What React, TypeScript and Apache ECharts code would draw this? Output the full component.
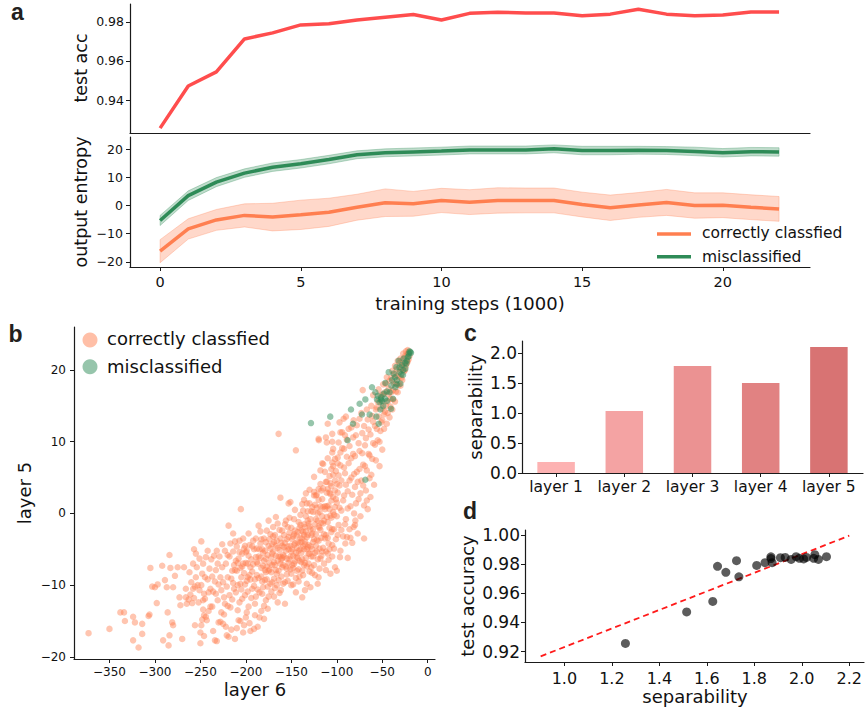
import React, { useEffect, useRef } from 'react';
import * as echarts from 'echarts';

// ---------- panel a: training curves ----------
const steps = [0, 1, 2, 3, 4, 5, 6, 7, 8, 9, 10, 11, 12, 13, 14, 15, 16, 17, 18, 19, 20, 21, 22];
const testAcc = [0.9256, 0.9472, 0.9544, 0.9713, 0.9744, 0.9785, 0.9791, 0.981, 0.9824, 0.9838, 0.981, 0.9844,
  0.985, 0.9846, 0.9846, 0.9832, 0.984, 0.9865, 0.984, 0.9832, 0.9836, 0.9851, 0.9851];
const correctMean = [-16.2, -8.3, -5.1, -3.5, -4.1, -3.3, -2.4, -0.6, 1.0, 0.6, 1.8, 1.2, 1.8, 1.8, 1.8, 0.35,
  -0.8, 0.2, 1.1, 0.0, 0.1, -0.6, -1.2];
const correctStd = [4.1, 3.6, 3.7, 4.1, 4.9, 5.2, 5.0, 4.6, 4.9, 4.4, 4.3, 4.4, 4.5, 4.4, 4.4, 4.4, 4.5, 4.4,
  4.6, 4.5, 4.4, 4.4, 4.4];
const misMean = [-5.3, 3.5, 8.3, 11.5, 13.6, 14.8, 16.3, 18.0, 18.7, 19.0, 19.3, 19.7, 19.7, 19.7, 20.1, 19.5,
  19.5, 19.6, 19.5, 19.2, 18.7, 19.1, 19.0];
const misStd = [1.8, 1.7, 1.6, 1.5, 1.5, 1.5, 1.5, 1.4, 1.4, 1.4, 1.4, 1.4, 1.4, 1.4, 1.4, 1.5, 1.5, 1.4, 1.4,
  1.5, 1.5, 1.5, 1.5];
const accTicks = [0.94, 0.96, 0.98];
const entropyTicks = [-20, -10, 0, 10, 20];
const stepTicks = [0, 5, 10, 15, 20];

// ---------- panel b: layer 6 vs layer 5 activations ----------
const correctPts: [number, number][] = [
  [-373, -16.7], [-350, -16.1], [-338, -13.8], [-334, -13.8], [-333, -15.0], [-324, -14.4], [-324, -17.7], [-322, -15.2],
  [-318, -18.7], [-314, -16.8], [-314, -15.4], [-306, -14.1], [-307, -14.3], [-305, -7.6], [-303, -10.2], [-300, -10.3],
  [-298, -12.5], [-297, -9.9], [-292, -7.3], [-291, -17.7], [-289, -9.3], [-287, -10.3], [-286, -13.8], [-285, -18.4],
  [-284, -17.0], [-284, -5.8], [-283, -7.6], [-281, -15.2], [-280, -15.6], [-280, -10.3], [-278, -8.7], [-275, -7.5],
  [-273, -11.7], [-272, -12.8], [-270, -17.5], [-268, -7.5], [-266, -11.7], [-266, -10.5], [-265, -12.6], [-263, -12.0],
  [-261, -11.3], [-259, -12.5], [-258, -10.5], [-258, -7.0], [-257, -5.0], [-256, -15.6], [-255, -5.6], [-254, -7.5],
  [-253, -10.0], [-256, -10.2], [-251, -10.7], [-250, -18.1], [-250, -16.6], [-249, -3.9], [-249, -15.6], [-248, -8.4],
  [-248, -14.8], [-247, -12.1], [-247, -13.4], [-246, -14.2], [-246, -11.2], [-246, -17.1], [-245, -8.9], [-244, -14.4],
  [-243, -14.9], [-242, -5.2], [-241, -13.6], [-240, -7.7], [-239, -10.5], [-239, -13.0], [-237, -13.0], [-236, -16.4],
  [-234, -17.7], [-233, -11.2], [-232, -5.2], [-232, -17.8], [-231, -7.0], [-230, -15.2], [-228, -8.9], [-228, -15.1],
  [-227, -13.8], [-226, -7.5], [-225, -15.4], [-224, -11.7], [-224, -14.1], [-223, -5.2], [-222, -15.8], [-221, -17.0],
  [-220, -8.9], [-219, -17.2], [-219, -1.7], [-218, -6.0], [-217, -13.1], [-216, -9.1], [-216, -16.2], [-215, -8.0],
  [-214, -2.8], [-214, -5.3], [-213, -10.5], [-213, -7.2], [-212, -17.5], [-212, -7.9], [-211, -6.6], [-210, -8.0],
  [-210, -4.6], [-210, -16.0], [-209, -13.5], [-209, -10.0], [-208, -14.9], [-208, -6.3], [-207, -3.8], [-207, -5.4],
  [-206, -9.8], [-206, -7.6], [-206, -15.0], [-205.5, 0.6], [-205, -8.9], [-204, -11.9], [-204, -5.6], [-203, -7.0],
  [-203, -3.5], [-203, -16.6], [-202, -15.6], [-202, -8.3], [-201, -4.5], [-201, -9.9], [-200, -6.9], [-200, -5.4],
  [-200, -14.5], [-199, -13.8], [-199, -9.4], [-198, -8.9], [-198, -7.0], [-197, -2.8], [-197, -5.9], [-197, -13.0],
  [-196, -15.3], [-196, -4.4], [-195, -7.5], [-195, -9.2], [-195, -16.4], [-194, -6.4], [-193, -10.5], [-193, -8.1],
  [-192, -3.8], [-191, -16.1], [-191, -5.0], [-190, -12.6], [-190, -9.2], [-190, -14.2], [-189, -6.1], [-189, -3.5],
  [-188, -8.6], [-188, -6.8], [-187, -7.0], [-187, -10.6], [-187, -15.8], [-186, -1.7], [-185, -14.5], [-185, -5.0],
  [-184, -4.2], [-184, -6.2], [-183, -8.8], [-183, -3.6], [-183, -13.6], [-182, -11.2], [-182, -9.5], [-181, -7.3],
  [-181, -5.5], [-180, -14.7], [-180, -6.6], [-180, -12.9], [-179, -5.2], [-179, -9.3], [-178, -12.1], [-178, -8.2],
  [-178, -4.0], [-177, -2.4], [-177, -7.4], [-176, -5.8], [-176, -10.2], [-176, -13.3], [-175, -1.0], [-175, -8.0],
  [-174, -6.9], [-174, -7.8], [-173, -9.8], [-173, -4.9], [-173, -2.9], [-172, -6.1], [-172, -8.2], [-171, -4.3],
  [-171, -9.6], [-171, -5.6], [-170, -3.2], [-170, -5.3], [-169, -6.8], [-169, -9.1], [-169, -4.0], [-168, -7.2],
  [-168, -10.4], [-167, -0.5], [-167, -5.9], [-167, -7.9], [-166, -8.4], [-166, -3.8], [-165, -12.4], [-165, -6.6],
  [-165, -4.8], [-164, 11.1], [-164, -8.0], [-164, -9.3], [-163, -5.1], [-163, -2.3], [-162, 2.2], [-162, -7.0],
  [-162, -6.0], [-161.5, -10.7], [-161, -4.1], [-161, -8.8], [-160, -7.5], [-160, -4.5], [-160, -6.2], [-159, -5.8],
  [-159, -7.2], [-158, -3.0], [-158, -4.7], [-157, -12.6], [-157, -4.1], [-157, -9.6], [-156, -5.2], [-156, -1.0],
  [-155, -7.7], [-155, -6.3], [-155, -8.5], [-154, -1.9], [-154, -4.6], [-153, 1.4], [-153, -3.3], [-153, -6.9],
  [-152, -6.4], [-152, -2.7], [-151, -4.5], [-151, -7.8], [-151, 1.6], [-150, -10.0], [-150, -5.3], [-150, -8.4],
  [-149, -3.6], [-149, -5.0], [-148, -5.9], [-148, -3.2], [-148, -7.6], [-147, -7.0], [-147, -2.9], [-147, -0.8],
  [-146, -2.4], [-146, -6.7], [-146, -4.2], [-145, -11.0], [-145, 8.8], [-145, -9.0], [-144, -4.8], [-144, -3.1],
  [-144, -6.0], [-143, -6.2], [-143, -2.6], [-142, -1.2], [-142, -5.2], [-142, -7.8], [-141, -8.8], [-141, -2.0],
  [-141, -4.1], [-140, -3.4], [-140, -0.2], [-139, -5.5], [-139, -4.0], [-139, -6.8], [-138, 1.3], [-138, -6.4],
  [-138, -3.5], [-138, -11.7], [-137, -2.6], [-137, -8.6], [-136, -7.2], [-136, -1.5], [-136, -5.0], [-136, 1.9],
  [-135, -4.3], [-135, -3.9], [-135, -1.9], [-135, -10.7], [-134, -0.4], [-134, -6.2], [-133, -9.8], [-133, -5.0],
  [-133, -3.3], [-133, 1.4], [-132, -3.0], [-132, -1.0], [-132, 0.3], [-131, -5.6], [-131, -7.0], [-131, -4.4],
  [-130, 1.4], [-130, -1.8], [-130, -8.1], [-129, -4.6], [-129, -2.2], [-129, -10.3], [-128, 0.3], [-128, -3.0],
  [-128, -6.0], [-127, -8.3], [-127, 0.9], [-126, -2.2], [-126, -6.0], [-126, -4.0], [-125, 2.5], [-125, -7.2],
  [-125, 3.0], [-124, -5.5], [-124, -1.5], [-124, 1.2], [-123, -0.8], [-123, -2.9], [-123, 2.5], [-122, -3.7],
  [-122, 0.8], [-122, -5.3], [-121, -9.8], [-121, -1.0], [-120, 10.4], [-120, 1.9], [-120, -3.8], [-120, -8.9],
  [-120, 3.4], [-119.8, 10.2], [-119, -2.0], [-119, -4.9], [-119, 0.2], [-118, -6.3], [-118, -2.3], [-118, 4.1],
  [-117, 3.2], [-117, -1.3], [-117, -5.9], [-116, -0.4], [-116, 2.0], [-116, 7.0], [-115, 6.9], [-115, -4.8],
  [-115, -1.4], [-114, -2.9], [-114, -7.0], [-113, 1.0], [-113, -3.5], [-113, 0.6], [-112, -7.9], [-112, -3.0],
  [-112, 4.4], [-112, 10.6], [-111, 4.4], [-111, -0.5], [-111, 2.9], [-111, 9.9], [-110, 12.5], [-110, -1.2],
  [-110, -5.6], [-110, 3.4], [-109, -4.2], [-109, 1.1], [-108, 0.6], [-108, -5.0], [-108, -2.0], [-108, 5.2],
  [-107, 2.7], [-107, 4.2], [-107, -8.4], [-106, -2.6], [-106, 1.8], [-106, -0.6], [-106, 3.8], [-105, 10.0],
  [-105, -6.0], [-105, -4.4], [-105, 11.1], [-105, 8.5], [-105, 7.1], [-104, 5.4], [-104, 2.3], [-104, 6.6],
  [-103, -0.2], [-103, -2.2], [-102, 3.2], [-102, 0.9], [-102, 4.6], [-102, -7.5], [-101, -3.6], [-101, 5.9],
  [-100, 1.5], [-100, -8.0], [-100, -0.4], [-99, 7.8], [-99, 7.0], [-98, -1.6], [-98, 9.9], [-97, 3.9], [-97, 12.7],
  [-96.5, -6.1], [-96, -5.2], [-96, 6.7], [-96, 11.3], [-95, 0.4], [-94, 9.1], [-93, -3.2], [-92.5, 13.2], [-92, 2.5],
  [-92, 9.0], [-91, 5.6], [-90.6, -4.2], [-90, -0.8], [-90, 13.5], [-89, 10.3], [-88.8, -3.3], [-88, -6.2], [-88, 3.1],
  [-87, 7.0], [-86, -2.2], [-85, 1.0], [-84, 5.0], [-84, 12.0], [-83, -4.1], [-82, 8.3], [-81.5, -1.9], [-81.5, 13.0],
  [-81, 0.0], [-80, 3.7], [-80, -1.6], [-79.6, -1.0], [-79, 10.9], [-78, 5.8], [-77, -2.8], [-76, 2.0], [-75, 8.7],
  [-75, 13.2], [-74, -0.4], [-73, 4.6], [-72, 11.2], [-71.5, 17.2], [-71, 6.8], [-70, 1.1], [-70, -3.5], [-69, 9.5],
  [-68, 3.2], [-67, 14.5], [-67, 6.0], [-66, 0.6], [-65, 11.7], [-64, 8.1], [-63, 2.3], [-62, 5.4], [-61, 13.6],
  [-60, 9.8], [-60, 16.5], [-59, 4.0], [-58, 12.2], [-57, 7.4], [-56, 14.8], [-55, 10.2], [-54, 17.3], [-53, 6.6],
  [-52, 11.5], [-51, 15.4], [-50, 8.9], [-50, 13.0], [-49, 16.6], [-48, 11.8], [-47, 14.2], [-46, 18.1], [-45, 12.5],
  [-44, 15.6], [-43, 17.4], [-42, 13.4], [-41, 16.0], [-40, 18.9], [-39, 14.5], [-38, 17.2], [-37, 19.4], [-36, 15.6],
  [-35, 18.2], [-34, 20.1], [-33, 16.9], [-32, 19.0], [-31, 21.0], [-30, 17.8], [-29, 20.2], [-28, 18.6], [-27, 21.5],
  [-26, 19.8], [-25, 21.9], [-24, 20.6], [-23, 22.2], [-22, 21.2], [-21, 22.5], [-20, 22.0],
  // second pass over the main body of the cloud
  [-262, -8.2], [-260, -9.6], [-257, -11.8], [-255, -8.9], [-252, -12.4], [-251, -6.3], [-249, -10.0], [-247, -7.0],
  [-245, -11.9], [-244, -6.1], [-242, -9.2], [-241, -11.0], [-238, -6.4], [-237, -8.8], [-236, -10.9], [-235, -5.9],
  [-234, -9.5], [-233, -7.9], [-231, -12.1], [-230, -9.9], [-229, -6.0], [-227, -10.7], [-226, -4.3], [-225, -9.6],
  [-223, -12.6], [-222, -7.0], [-221, -10.2], [-220, -5.8], [-220, -12.9], [-218, -11.4], [-217, -4.2], [-215, -12.0],
  [-214, -9.7], [-212, -3.9], [-211, -11.0], [-209, -6.9], [-207, -12.4], [-205, -10.6], [-204, -7.4], [-202, -4.9],
  [-201, -11.4], [-199, -5.2], [-198, -10.9], [-196, -8.6], [-194, -11.8], [-193, -4.6], [-192, -7.1], [-191, -10.1],
  [-189, -11.6], [-188, -4.9], [-186, -9.0], [-186, -6.0], [-185, -11.0], [-184, -2.5], [-183, -7.6], [-182, -5.0],
  [-181, -10.3], [-180, -3.5], [-179, -7.9], [-178, -6.3], [-177, -9.2], [-175, -4.5], [-175, -11.6], [-174, -3.6],
  [-172, -10.9], [-171, -7.2], [-170, -1.9], [-169, -11.6], [-168, -3.0], [-167, -4.5], [-166, -10.0], [-165, -1.4],
  [-164, -6.0], [-163, -11.1], [-162, -3.5], [-161, -6.4], [-160, -2.4], [-159, -9.8], [-158, -6.0], [-157, -1.5],
  [-156, -7.4], [-155, -3.6], [-154, -9.4], [-153, -5.0], [-152, -0.6], [-151, -6.0], [-150, -2.0], [-149, -7.2],
  [-148, -9.9], [-147, -4.4], [-146, 0.5], [-145, -5.5], [-144, -8.0], [-143, -4.0], [-142, -9.5], [-141, -6.6],
  [-140, -1.6], [-140, -5.0], [-139, -2.4], [-138, -8.0], [-137, -4.6], [-137, 0.4], [-136, -3.0], [-135, -6.9],
  [-134, -2.5], [-134, 2.8], [-133, -7.4], [-132, -4.7], [-131, -1.4], [-130, -5.6], [-130, 3.3], [-129, -0.8],
  [-128, -7.5], [-127, -2.8], [-127, -5.0], [-126, 0.2], [-125, -3.6], [-125, 5.1], [-124, -8.6], [-123, -4.5],
  [-122, 2.6], [-121, -6.4], [-121, 0.0], [-120, -1.8], [-119, -7.7], [-118, 1.0], [-118, 6.0], [-117, -3.4],
  [-116, -5.3], [-115, 3.5], [-115, 0.9], [-114, -1.0], [-113, 5.8], [-112, -5.3], [-111, 1.0], [-110, -3.4],
  [-110, 7.7], [-109, -6.5], [-108, 2.9], [-107, -0.3], [-106, 6.2], [-105, -2.2], [-104, 0.2], [-104, 9.0],
  [-103, -4.9], [-102, 7.6], [-101, 2.0], [-100, 4.1], [-99, -3.0], [-99, 2.9], [-98, 5.3], [-97, 0.8], [-96, 8.5],
  [-95, -2.3], [-95, 4.6], [-94, 11.3], [-93, 1.8], [-92, 6.4], [-91, -1.5], [-91, 10.9], [-90, 4.0], [-89, 7.9],
  [-88, 0.7], [-87, 11.8], [-86, 4.6], [-86, 9.4], [-85, -3.4], [-84, 7.7], [-83, 2.6], [-82, 10.6], [-81, 5.5],
  [-80, 8.0], [-79, 1.4], [-78, 12.3], [-77, 4.4], [-76, 9.8], [-75, 6.2], [-74, 2.8], [-73, 14.0], [-72, 8.4],
  [-71, 3.9], [-70, 12.2], [-69, 6.6], [-68, 10.5], [-67, 1.8], [-66, 13.1], [-65, 8.3], [-64, 4.9], [-63, 11.0],
  [-62, 15.0], [-61, 7.6], [-60, 12.8], [-58, 9.6], [-57, 14.5], [-56, 11.8], [-55, 15.6], [-54, 13.5], [-53, 10.0],
  [-52, 16.5], [-51, 12.7], [-50, 14.6], [-49, 18.0], [-48, 13.8], [-47, 16.9], [-46, 15.0], [-45, 19.0], [-44, 14.0],
  [-43, 16.6], [-42, 18.5], [-41, 14.9], [-40, 16.9], [-39, 19.9], [-38, 15.9], [-37, 18.1], [-36, 20.6], [-35, 17.0],
  [-34, 19.2], [-33, 21.3], [-32, 17.9], [-31, 19.8], [-30, 21.6], [-29, 18.9], [-28, 20.6], [-27, 22.3], [-26, 20.9],
  [-25, 20.0], [-24, 22.6], [-23, 21.0], [-22, 22.8], [-21, 21.5],
];
const misPts: [number, number][] = [
  [-128.4, 12.6], [-107.2, 13.5], [-88.1, 10.2], [-84.4, 14.5], [-82.2, 12.5], [-74.9, 15.3], [-72.3, 13.8],
  [-68.6, 15.9], [-68.6, 4.7], [-63.9, 13.8], [-61.3, 17.6], [-57.6, 16.9], [-56.5, 13.5], [-55.8, 15.9], [-55, 16.4],
  [-54, 12.5], [-53, 15.5], [-52.1, 14.5], [-51.4, 15.9], [-51, 16.2], [-50.3, 15.7], [-49, 15.0], [-48.5, 16.7],
  [-47, 16.0], [-46.6, 18.2], [-45, 17.0], [-44.8, 15.7], [-42.9, 19.7], [-41.9, 16.9], [-40.4, 14.6], [-40, 17.8],
  [-39.3, 18.6], [-38.2, 16.0], [-37.5, 19.5], [-36, 19.0], [-35.6, 17.6], [-34.5, 20.4], [-34, 18.0], [-33.8, 18.6],
  [-32, 21.3], [-31, 20.4], [-30.9, 19.7], [-30.1, 18.1], [-29, 19.4], [-28.3, 20.7], [-27.2, 19.3], [-27, 20.0],
  [-26.5, 21.6], [-25, 21.0], [-24.6, 20.2], [-23.5, 20.9], [-23, 21.3], [-22, 21.8], [-21, 21.9], [-20.9, 22.3],
  [-20, 22.6], [-19.1, 22.5], [-18.4, 22.4],
];
const layer6Ticks = [-350, -300, -250, -200, -150, -100, -50, 0];
const layer5Ticks = [-20, -10, 0, 10, 20];

// ---------- panel c: separability per layer ----------
const layers = ['layer 1', 'layer 2', 'layer 3', 'layer 4', 'layer 5'];
const separability = [0.183, 1.033, 1.783, 1.5, 2.1];
const sepTicks = [0, 0.5, 1.0, 1.5, 2.0];
const barColors = ['#fdb2b2', '#f4a3a3', '#eb9292', '#e18282', '#d87373'];

// ---------- panel d: accuracy vs separability over training ----------
const sepPerStep = [1.257, 1.515, 1.625, 1.735, 1.68, 1.645, 1.81, 1.845, 1.725, 1.87, 1.875, 1.91, 1.87, 1.93,
  2.02, 1.955, 1.99, 2.055, 2.05, 2.07, 2.008, 2.104, 1.976];
const fitX = [0.9, 2.2];
const fitY = [0.9168, 0.9995];
const sepAxisTicks = [1.0, 1.2, 1.4, 1.6, 1.8, 2.0, 2.2];
const accAxisTicks = [0.92, 0.94, 0.96, 0.98, 1.0];

const FONT = "'DejaVu Sans', sans-serif";
const INK = '#1a1a1a';
const CORAL = '#ff7f50';
const SEAGREEN = '#2e8b57';

const minus = (s: string) => s.replace('-', '\u2212');

function valueAxis(gridIndex: number, min: number, max: number, ticks: number[], fontSize: number,
  margin: number, fmt: (v: number) => string) {
  return {
    type: 'value', gridIndex, min, max,
    axisLine: { show: true, onZero: false, lineStyle: { color: INK, width: 1.2 } },
    axisTick: { show: true, length: 4, customValues: ticks, lineStyle: { color: INK, width: 1 } },
    axisLabel: { show: true, customValues: ticks, formatter: fmt, fontSize, margin, color: '#111', fontFamily: FONT },
    splitLine: { show: false },
  };
}

function bandSeries(mean: number[], std: number[], fill: string) {
  return {
    type: 'custom', xAxisIndex: 1, yAxisIndex: 1, silent: true, z: 1,
    data: steps.map((s, i) => [s, mean[i] - std[i], mean[i] + std[i]]),
    encode: { x: 0, y: [1, 2] },
    renderItem: (params: any, api: any) => {
      if (params.dataIndex !== 0) return null;
      const upper = steps.map((s, i) => api.coord([s, mean[i] + std[i]]));
      const lower = steps.map((s, i) => api.coord([s, mean[i] - std[i]])).reverse();
      return {
        type: 'polygon',
        shape: { points: upper.concat(lower) },
        style: { fill, stroke: fill, lineWidth: 1 },
      };
    },
  };
}

function label(text: string, x: number, y: number, fontSize: number, rotate = false, extra: any = {}) {
  return {
    type: 'text', x, y, rotation: rotate ? Math.PI / 2 : 0, silent: true,
    style: {
      text, x: 0, y: 0, fill: '#111', font: `${fontSize}px ${FONT}`,
      textAlign: 'center', align: 'center', textVerticalAlign: 'middle', verticalAlign: 'middle', ...extra,
    },
  };
}

function panelLetter(text: string, x: number, y: number) {
  return {
    type: 'text', x, y, silent: true,
    style: {
      text, x: 0, y: 0, fill: '#231f20', font: "bold 23px 'Liberation Sans', Arial, sans-serif",
      textAlign: 'left', align: 'left', textVerticalAlign: 'middle', verticalAlign: 'middle',
    },
  };
}

function legendText(text: string, x: number, y: number, fontSize: number) {
  return label(text, x, y, fontSize, false, { textAlign: 'left', align: 'left' });
}

const option: any = {
  animation: false,
  backgroundColor: '#ffffff',
  grid: [
    { left: 130, top: 4, width: 680, height: 129 },
    { left: 130, top: 137, width: 680, height: 130 },
    { left: 74, top: 327, width: 361, height: 332 },
    { left: 522, top: 341, width: 341, height: 132 },
    { left: 525, top: 530, width: 339, height: 132 },
  ],
  xAxis: [
    {
      type: 'value', gridIndex: 0, min: -1.07, max: 23.1,
      axisLine: { show: true, onZero: false, lineStyle: { color: INK, width: 1.2 } },
      axisTick: { show: false }, axisLabel: { show: false }, splitLine: { show: false },
    },
    valueAxis(1, -1.07, 23.1, stepTicks, 14.5, 7, (v) => String(v)),
    valueAxis(2, -389, 8, layer6Ticks, 12, 7, (v) => minus(String(v))),
    {
      type: 'category', gridIndex: 3, data: layers, boundaryGap: true,
      axisLine: { show: true, onZero: false, lineStyle: { color: INK, width: 1.2 } },
      axisTick: { show: true, alignWithLabel: true, length: 4, lineStyle: { color: INK } },
      axisLabel: { interval: 0, fontSize: 15.5, margin: 6, color: '#111', fontFamily: FONT },
      splitLine: { show: false },
    },
    valueAxis(4, 0.834, 2.262, sepAxisTicks, 16, 8, (v) => v.toFixed(1)),
  ],
  yAxis: [
    valueAxis(0, 0.9231, 0.9892, accTicks, 12.5, 6, (v) => v.toFixed(2)),
    valueAxis(1, -21.8, 24.3, entropyTicks, 12.5, 7, (v) => minus(String(v))),
    valueAxis(2, -20.3, 26, layer5Ticks, 12, 8, (v) => minus(String(v))),
    valueAxis(3, 0, 2.2, sepTicks, 17, 5, (v) => v.toFixed(1)),
    valueAxis(4, 0.9129, 1.0034, accAxisTicks, 17, 5, (v) => v.toFixed(2)),
  ],
  series: [
    {
      type: 'line', xAxisIndex: 0, yAxisIndex: 0, symbol: 'none',
      data: steps.map((s, i) => [s, testAcc[i]]),
      lineStyle: { color: '#ff4d4d', width: 3.5 },
    },
    bandSeries(correctMean, correctStd, 'rgba(255,127,80,0.3)'),
    bandSeries(misMean, misStd, 'rgba(46,139,87,0.3)'),
    {
      type: 'line', xAxisIndex: 1, yAxisIndex: 1, symbol: 'none', z: 3,
      data: steps.map((s, i) => [s, correctMean[i]]),
      lineStyle: { color: CORAL, width: 3.5 },
    },
    {
      type: 'line', xAxisIndex: 1, yAxisIndex: 1, symbol: 'none', z: 3,
      data: steps.map((s, i) => [s, misMean[i]]),
      lineStyle: { color: SEAGREEN, width: 3.5 },
    },
    {
      type: 'scatter', xAxisIndex: 2, yAxisIndex: 2, symbolSize: 6.5, data: correctPts,
      itemStyle: { color: CORAL, opacity: 0.45 },
    },
    {
      type: 'scatter', xAxisIndex: 2, yAxisIndex: 2, symbolSize: 6.5, data: misPts, z: 3,
      itemStyle: { color: SEAGREEN, opacity: 0.5 },
    },
    {
      type: 'bar', xAxisIndex: 3, yAxisIndex: 3, barWidth: '55%',
      data: separability.map((v, i) => ({ value: v, itemStyle: { color: barColors[i] } })),
    },
    {
      type: 'line', xAxisIndex: 4, yAxisIndex: 4, symbol: 'none', z: 2,
      data: fitX.map((x, i) => [x, fitY[i]]),
      lineStyle: { color: '#ff1a1a', width: 1.8, type: [6, 4] },
    },
    {
      type: 'scatter', xAxisIndex: 4, yAxisIndex: 4, symbolSize: 9, z: 3,
      data: sepPerStep.map((x, i) => [x, testAcc[i]]),
      itemStyle: { color: 'rgba(0,0,0,0.8)' },
    },
  ],
  graphic: [
    panelLetter('a', 11, 11.8),
    panelLetter('b', 8.5, 333.7),
    panelLetter('c', 464, 333),
    panelLetter('d', 463, 511.3),
    label('test acc', 81, 68, 17.5, true),
    label('output entropy', 81, 202, 17.5, true),
    label('training steps (1000)', 470, 303.8, 18),
    label('layer 5', 24, 493, 18, true),
    label('layer 6', 255, 689.8, 18),
    label('separability', 475, 407, 18, true),
    label('test accuracy', 467, 596, 18, true),
    label('separability', 695, 696.8, 18),
    // legend, panel a
    { type: 'line', silent: true, shape: { x1: 657, y1: 234, x2: 691, y2: 234 }, style: { stroke: CORAL, lineWidth: 3.5 } },
    { type: 'line', silent: true, shape: { x1: 657, y1: 256.7, x2: 691, y2: 256.7 }, style: { stroke: SEAGREEN, lineWidth: 3.5 } },
    legendText('correctly classfied', 702, 233, 15.5),
    legendText('misclassified', 702, 257, 15.5),
    // legend, panel b
    { type: 'circle', silent: true, shape: { cx: 90, cy: 340, r: 7.5 }, style: { fill: 'rgba(255,127,80,0.5)' } },
    { type: 'circle', silent: true, shape: { cx: 90, cy: 366.7, r: 7.5 }, style: { fill: 'rgba(46,139,87,0.5)' } },
    legendText('correctly classfied', 107, 338.3, 18),
    legendText('misclassified', 107, 366.8, 18),
  ],
};

export default function App() {
  const ref = useRef<HTMLDivElement>(null);
  useEffect(() => {
    if (!ref.current) return;
    const chart = echarts.init(ref.current, null, { renderer: 'svg' });
    chart.setOption(option);
    return () => chart.dispose();
  }, []);
  return (
    <div
      ref={ref}
      style={{ position: 'absolute', left: 0, top: 0, width: 865, height: 713, background: '#fff' }}
    />
  );
}
